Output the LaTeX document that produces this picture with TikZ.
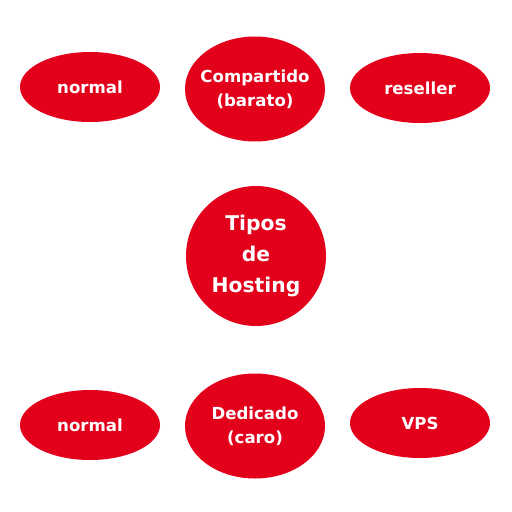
\documentclass[tikz,border=0pt]{standalone}
\usepackage{fontspec}
\setmainfont{DejaVu Sans}
\usetikzlibrary{shapes.geometric}
\definecolor{hostred}{HTML}{E2001A}
\begin{document}
\begin{tikzpicture}[x=1pt,y=-1pt,
  bubble/.style={ellipse,fill=hostred,draw=none,text=white,font=\bfseries\fontsize{16.6}{24}\selectfont,align=center,inner xsep=-30pt,inner ysep=-10pt},
  small/.style={bubble,minimum width=140pt,minimum height=70pt},
  mid/.style={bubble,minimum width=140pt,minimum height=105pt},
  big/.style={bubble,circle,minimum size=140pt,inner sep=-20pt,font=\bfseries\fontsize{20.3}{31}\selectfont}]
\useasboundingbox (0,0) rectangle (512,512);
\node[small] (n1) at (90,87) {normal};
\node[mid] (comp) at (255,89) {Compartido\\(barato)};
\node[small] (res) at (420,88) {reseller};
\node[big] (tipos) at (256,256) {Tipos\\de\\Hosting};
\node[small] (n2) at (90,425) {normal};
\node[mid] (ded) at (255,426) {Dedicado\\(caro)};
\node[small] (vps) at (420,423) {VPS};
\end{tikzpicture}
\end{document}
